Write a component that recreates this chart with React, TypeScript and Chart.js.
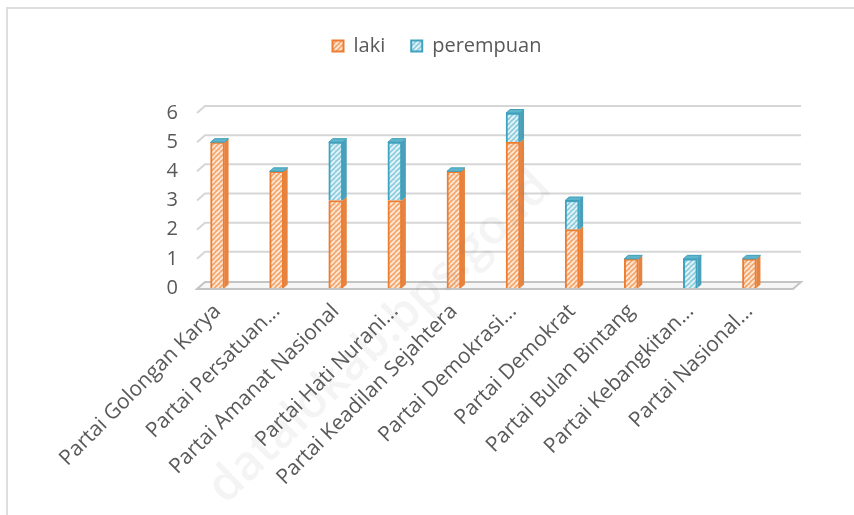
import React, { useEffect, useRef } from "react";
import { Chart, registerables } from "chart.js";

Chart.register(...registerables);

const categories = [
  "Partai Golongan Karya",
  "Partai Persatuan...",
  "Partai Amanat Nasional",
  "Partai Hati Nurani...",
  "Partai Keadilan Sejahtera",
  "Partai Demokrasi...",
  "Partai Demokrat",
  "Partai Bulan Bintang",
  "Partai Kebangkitan...",
  "Partai Nasional...",
];
const laki = [5, 4, 3, 3, 4, 5, 2, 1, 0, 1];
const perempuan = [0, 0, 2, 2, 0, 1, 1, 0, 1, 0];
const seriesNames = ["laki", "perempuan"];
const yMin = 0;
const yMax = 6;
const watermark = "datalokab.bps.go.id";

const FONT = "'Open Sans', 'Noto Sans', sans-serif";

function makePattern(bg: string, stripe: string): CanvasPattern | string {
  const s = 5;
  const c = document.createElement("canvas");
  c.width = s;
  c.height = s;
  const g = c.getContext("2d");
  if (!g) return bg;
  g.fillStyle = bg;
  g.fillRect(0, 0, s, s);
  g.strokeStyle = stripe;
  g.lineWidth = 1.7;
  for (const o of [-s, 0, s]) {
    g.beginPath();
    g.moveTo(o, s);
    g.lineTo(o + s, 0);
    g.stroke();
  }
  return g.createPattern(c, "repeat") || bg;
}

const DX = 8;
const DY = 7;

const wallPlugin = {
  id: "wall3d",
  beforeDatasetsDraw(chart: any) {
    const ctx = chart.ctx;
    const ys = chart.scales.y;
    const { left, right } = chart.chartArea;
    const L = left + 9;
    const R = right + 14;
    ctx.save();
    ctx.lineWidth = 2;
    ctx.strokeStyle = "#d6d6d6";
    for (const t of ys.ticks) {
      if (t.value === yMin) continue;
      const py = ys.getPixelForValue(t.value);
      ctx.beginPath();
      ctx.moveTo(L, py);
      ctx.lineTo(L + DX, py - DY);
      ctx.lineTo(R + DX, py - DY);
      ctx.stroke();
    }
    const p0 = ys.getPixelForValue(yMin) + 1;
    ctx.beginPath();
    ctx.moveTo(L, p0);
    ctx.lineTo(R, p0);
    ctx.lineTo(R + DX, p0 - DY);
    ctx.lineTo(L + DX, p0 - DY);
    ctx.closePath();
    ctx.fillStyle = "#f6f6f6";
    ctx.fill();
    ctx.strokeStyle = "#c4c4c4";
    ctx.stroke();
    ctx.restore();
  },
};

const SIDE = ["#e6833f", "#4aa0b8"];
const CAP = ["#f0a36f", "#5fb6cc"];
const BD = 4;
const BDY = 3.5;

const bar3dPlugin = {
  id: "bar3d",
  afterDatasetsDraw(chart: any) {
    const ctx = chart.ctx;
    const n = chart.data.datasets.length;
    ctx.save();
    for (let d = 0; d < n; d++) {
      const meta = chart.getDatasetMeta(d);
      meta.data.forEach((el: any) => {
        const { x, y, base, width } = el.getProps(["x", "y", "base", "width"], true);
        const l = x - width / 2;
        const r = x + width / 2;
        const top = Math.min(y, base);
        const bottom = Math.max(y, base);
        if (bottom - top > 0.5) {
          ctx.beginPath();
          ctx.moveTo(r, top);
          ctx.lineTo(r + BD, top - BDY);
          ctx.lineTo(r + BD, bottom - BDY);
          ctx.lineTo(r, bottom);
          ctx.closePath();
          ctx.fillStyle = SIDE[d];
          ctx.fill();
        }
        if (d === n - 1) {
          ctx.beginPath();
          ctx.moveTo(l, top);
          ctx.lineTo(r, top);
          ctx.lineTo(r + BD, top - BDY);
          ctx.lineTo(l + BD, top - BDY);
          ctx.closePath();
          ctx.fillStyle = CAP[d];
          ctx.fill();
          ctx.strokeStyle = "#3f9fb9";
          ctx.lineWidth = 1;
          ctx.stroke();
        }
      });
    }
    ctx.restore();
  },
};

const legendSpacePlugin = {
  id: "legendSpace",
  beforeInit(chart: any) {
    const orig = chart.legend.fit;
    chart.legend.fit = function () {
      orig.call(this);
      this.height = 103;
    };
  },
};

const watermarkPlugin = {
  id: "watermark",
  afterDraw(chart: any) {
    const ctx = chart.ctx;
    ctx.save();
    ctx.translate(380, 338);
    ctx.rotate(-Math.PI / 4.1);
    ctx.font = `600 48px ${FONT}`;
    ctx.fillStyle = "rgba(110,110,110,0.08)";
    ctx.textAlign = "center";
    ctx.textBaseline = "middle";
    ctx.fillText(watermark, 0, 0);
    ctx.restore();
  },
};

export default function App() {
  const ref = useRef<HTMLCanvasElement | null>(null);

  useEffect(() => {
    const canvas = ref.current;
    if (!canvas) return;
    const orangeFill = makePattern("#f4a870", "#fdebdc");
    const blueFill = makePattern("#8fcde0", "#eaf6fa");
    const chart = new Chart(canvas, {
      type: "bar",
      data: {
        labels: categories,
        datasets: [
          {
            label: seriesNames[0],
            data: laki,
            backgroundColor: orangeFill as any,
            borderColor: "#ed7d31",
            borderWidth: 2,
            barThickness: 14,
          },
          {
            label: seriesNames[1],
            data: perempuan,
            backgroundColor: blueFill as any,
            borderColor: "#3fa3c0",
            borderWidth: 2,
            barThickness: 14,
          },
        ],
      },
      options: {
        animation: false,
        responsive: false,
        maintainAspectRatio: false,
        layout: { padding: { top: 10, left: 95, right: 75, bottom: 0 } },
        plugins: {
          legend: {
            position: "top",
            labels: {
              boxWidth: 11,
              boxHeight: 11,
              padding: 26,
              color: "#595959",
              font: { family: FONT, size: 20 },
            },
          },
          tooltip: { enabled: false },
        },
        scales: {
          x: {
            stacked: true,
            grid: { display: false },
            border: { display: false },
            ticks: {
              autoSkip: false,
              maxRotation: 45,
              minRotation: 45,
              color: "#595959",
              font: { family: FONT, size: 21 },
              padding: 3,
            },
            afterFit(s: any) {
              s.height = 227;
            },
          },
          y: {
            stacked: true,
            min: yMin,
            max: yMax,
            grid: { display: false, drawTicks: false },
            border: { display: false },
            ticks: {
              stepSize: 1,
              color: "#595959",
              font: { family: FONT, size: 20 },
              padding: 10,
            },
            afterFit(s: any) {
              s.width = 93;
            },
          },
        },
      },
      plugins: [legendSpacePlugin, wallPlugin, bar3dPlugin, watermarkPlugin],
    });
    return () => chart.destroy();
  }, []);

  return (
    <div style={{ position: "fixed", left: 0, top: 0, width: 854, height: 515, background: "#fff", overflow: "hidden" }}>
      <div
        style={{
          position: "absolute",
          left: 6,
          top: 7,
          width: 900,
          height: 600,
          borderTop: "2px solid #dedede",
          borderLeft: "2px solid #dedede",
        }}
      />
      <canvas ref={ref} width={854} height={515} style={{ position: "absolute", left: 0, top: 0, width: 854, height: 515 }} />
    </div>
  );
}
